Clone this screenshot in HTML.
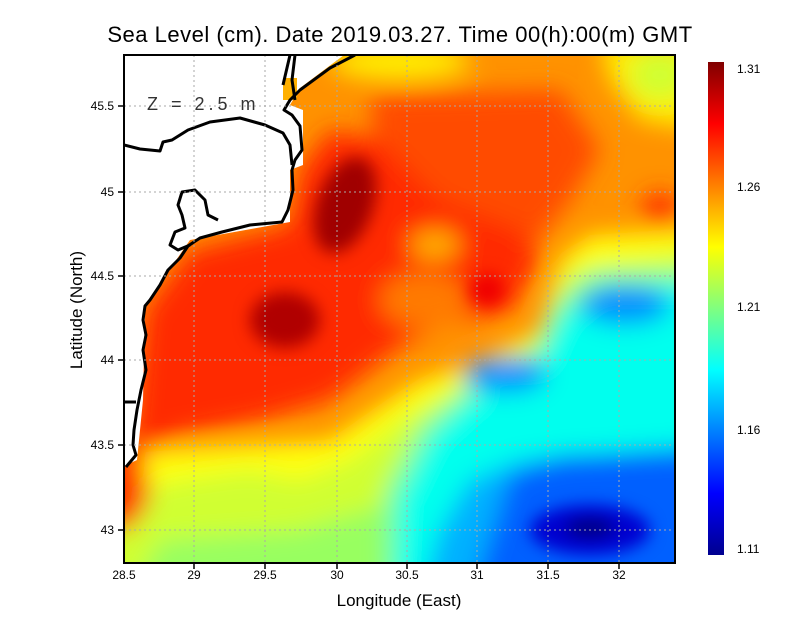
<!DOCTYPE html>
<html><head><meta charset="utf-8"><style>
body{margin:0;background:#fff;}
svg{display:block;font-family:"Liberation Sans",sans-serif;}
</style></head><body>
<svg width="800" height="618" viewBox="0 0 800 618" xmlns="http://www.w3.org/2000/svg">
<defs>
<clipPath id="pc"><rect x="124" y="55" width="551" height="508"/></clipPath>
<filter id="bl" x="-20%" y="-20%" width="140%" height="140%"><feGaussianBlur stdDeviation="12"/></filter>
<filter id="bl2" x="-50%" y="-50%" width="200%" height="200%"><feGaussianBlur stdDeviation="8"/></filter>
<linearGradient id="cb" x1="0" y1="1" x2="0" y2="0">
<stop offset="0" stop-color="#00008f"/><stop offset="0.125" stop-color="#0000ff"/>
<stop offset="0.375" stop-color="#00ffff"/><stop offset="0.625" stop-color="#ffff00"/>
<stop offset="0.875" stop-color="#ff0000"/><stop offset="1" stop-color="#800000"/>
</linearGradient>
</defs>
<text x="400" y="42" font-size="22" text-anchor="middle" letter-spacing="0.5">Sea Level (cm). Date 2019.03.27. Time 00(h):00(m) GMT</text>
<g clip-path="url(#pc)">
<rect x="100" y="30" width="600" height="560" fill="#ff9200"/>
<g filter="url(#bl)">
<polygon points="100,455 250,445 330,440 390,400 420,380 470,365 540,330 560,260 590,235 700,230 700,600 100,600" fill="#ffff10"/>
<polygon points="100,500 180,480 250,470 300,480 350,460 400,420 470,380 540,340 570,270 700,250 700,600 100,600" fill="#d0ff30"/>
<polygon points="130,600 160,540 300,530 400,500 420,600" fill="#98ff60"/>
<polygon points="385,600 385,490 420,425 465,388 535,348 555,300 595,270 700,270 700,600" fill="#70ffa0"/>
<polygon points="395,600 400,500 432,435 472,398 542,360 562,315 602,285 700,285 700,600" fill="#00ffee"/>
<polygon points="420,600 440,530 470,480 520,460 700,445 700,600" fill="#00b0ff"/>
<polygon points="470,600 510,475 560,455 700,450 700,600" fill="#0060ff"/>
<ellipse cx="505" cy="375" rx="42" ry="18" fill="#0090ff"/>
<ellipse cx="625" cy="305" rx="45" ry="20" fill="#0090ff"/>
<ellipse cx="400" cy="62" rx="70" ry="18" fill="#ffee00"/>
<polygon points="600,40 700,40 700,130 640,120 610,80" fill="#ffee00"/>
<ellipse cx="660" cy="75" rx="30" ry="25" fill="#d0ff30"/>
<polygon points="370,95 560,90 600,150 570,200 530,250 450,225 380,200" fill="#ff4c00"/>
<polygon points="145,310 190,250 290,225 300,170 330,130 380,140 440,200 520,230 540,260 510,310 440,325 400,345 330,400 260,420 180,435 130,460" fill="#ff2a00"/>
<polygon points="100,440 140,440 150,500 130,530 100,530" fill="#ff3000"/>
<ellipse cx="660" cy="210" rx="18" ry="18" fill="#ff3000"/>
<ellipse cx="425" cy="300" rx="45" ry="28" fill="#ff7a00"/>
<ellipse cx="435" cy="245" rx="25" ry="15" fill="#ffb000"/>
</g>
<g filter="url(#bl2)">
<ellipse cx="590" cy="530" rx="60" ry="25" fill="#0000d0"/>
<ellipse cx="590" cy="528" rx="25" ry="10" fill="#000080"/>
<ellipse cx="345" cy="205" rx="28" ry="50" fill="#a00000" transform="rotate(20 345 205)"/>
<ellipse cx="285" cy="320" rx="35" ry="28" fill="#b00000"/>
<ellipse cx="487" cy="290" rx="18" ry="16" fill="#f00000"/>
</g>
<polygon points="100,40 365,40 340,58 300,88 290,105 303,110 303,165 290,170 290,222 190,240 145,305 143,400 137,460 124,466 100,466" fill="#fff"/>
<rect x="283" y="78" width="14" height="22" fill="#ffb000"/>
<g fill="none" stroke="#000" stroke-width="3" stroke-linejoin="round">
<path d="M355,55 L330,68 L300,90 L290,100 L284,110 L292,115 L300,126 L302,150 L295,160 L292,170 L293,190 L288,210 L282,222 L250,225 L222,232 L200,238 L188,246 L180,258 L168,270 L160,285 L150,300 L145,306 L143,320 L146,335 L143,350 L146,370 L141,390 L137,410 L134,430 L133,445 L136,455 L126,467"/>
<path d="M124,145 L140,149 L160,151 L163,142 L172,140 L188,130 L210,122 L240,118 L265,125 L283,133 L290,145 L292,165"/>
<path d="M295,55 L292,80 L295,100 M290,55 L283,85"/>
<path d="M190,245 L178,250 L170,245 L175,232 L185,228 L182,215 L178,205 L182,192 L195,190 L205,200 L208,215 L218,220"/>
<path d="M124,402 L136,402"/>
</g>
</g>
<g stroke="#aaa" stroke-width="1" stroke-dasharray="2,3" fill="none">
<path d="M194,55V563 M265,55V563 M337,55V563 M407,55V563 M477,55V563 M548,55V563 M619,55V563"/>
<path d="M124,106H675 M124,192H675 M124,276H675 M124,360H675 M124,445H675 M124,530H675"/>
</g>
<text x="147" y="110" font-size="18" fill="#333" letter-spacing="4">Z = 2.5 m</text>
<rect x="124" y="55" width="551" height="508" fill="none" stroke="#000" stroke-width="2"/>
<g stroke="#000" stroke-width="1.5">
<path d="M194,563v6 M265,563v6 M337,563v6 M407,563v6 M477,563v6 M548,563v6 M619,563v6"/>
<path d="M124,106h-6 M124,192h-6 M124,276h-6 M124,360h-6 M124,445h-6 M124,530h-6"/>
</g>
<g font-size="12" text-anchor="middle">
<text x="124" y="579">28.5</text><text x="194" y="579">29</text><text x="265" y="579">29.5</text>
<text x="337" y="579">30</text><text x="407" y="579">30.5</text><text x="477" y="579">31</text>
<text x="548" y="579">31.5</text><text x="619" y="579">32</text>
</g>
<g font-size="12" text-anchor="end">
<text x="114" y="110">45.5</text><text x="114" y="196">45</text><text x="114" y="280">44.5</text>
<text x="114" y="364">44</text><text x="114" y="449">43.5</text><text x="114" y="534">43</text>
</g>
<text x="399" y="606" font-size="17" text-anchor="middle">Longitude (East)</text>
<text x="82" y="310" font-size="17" text-anchor="middle" transform="rotate(-90 82 310)">Latitude (North)</text>
<rect x="708" y="62" width="16" height="493" fill="url(#cb)"/>
<g font-size="12">
<text x="737" y="73">1.31</text><text x="737" y="191">1.26</text><text x="737" y="311">1.21</text>
<text x="737" y="434">1.16</text><text x="737" y="553">1.11</text>
</g>
</svg>
</body></html>
